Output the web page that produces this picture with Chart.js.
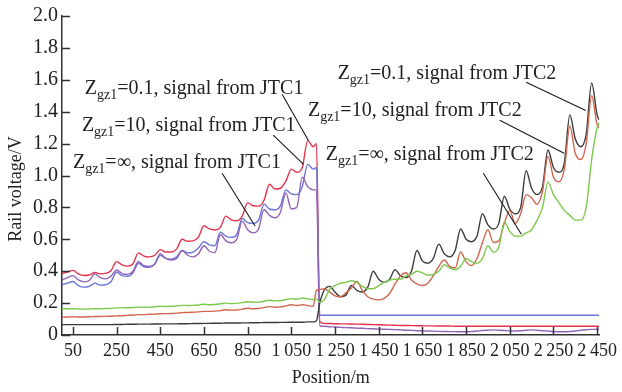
<!DOCTYPE html>
<html>
<head>
<meta charset="utf-8">
<script src="https://cdn.jsdelivr.net/npm/chart.js@4.4.1/dist/chart.umd.min.js"></script>
<style>
  html, body { margin: 0; padding: 0; background: #fff; }
  #wrap { width: 622px; height: 392px; }
</style>
</head>
<body>
<div id="wrap"><canvas id="chart" width="622" height="392"></canvas></div>
<script>
// Data (position in m, rail voltage in V)

const positions = [
  0, 25, 50, 75, 100, 125, 150, 175, 200, 225,
  250, 275, 300, 325, 350, 375, 400, 425, 450, 475,
  500, 525, 550, 575, 600, 625, 650, 675, 700, 725,
  750, 775, 800, 825, 850, 875, 900, 925, 950, 975,
  1000, 1025, 1050, 1075, 1100, 1125, 1150, 1165, 1180, 1200,
  1225, 1250, 1275, 1300, 1325, 1350, 1375, 1400, 1425, 1450,
  1475, 1500, 1525, 1550, 1575, 1600, 1625, 1650, 1675, 1700,
  1725, 1750, 1775, 1800, 1825, 1850, 1875, 1900, 1925, 1950,
  1975, 2000, 2025, 2050, 2075, 2100, 2125, 2150, 2175, 2200,
  2225, 2250, 2275, 2300, 2325, 2350, 2375, 2400, 2425, 2450,
  2460
];

// signal from JTC1
const jtc1Z01 = [
  .385, .395, .405, .383, .373, .376, .392, .384, .386, .405,
  .46, .44, .432, .447, .515, .495, .49, .50, .535, .52,
  .52, .54, .60, .588, .59, .615, .685, .665, .658, .675,
  .745, .722, .716, .745, .83, .81, .808, .845, .945, .915,
  .92, .965, 1.04, 1.02, 1.05, 1.22, 1.18, 1.20, .085, .073,
  .072, .071, .070, .070, .069, .068, .067, .066, .065, .064,
  .063, .062, .061, .060, .060, .059, .058, .058, .057, .057,
  .056, .056, .056, .055, .055, .055, .055, .055, .055, .055,
  .055, .055, .055, .055, .055, .055, .055, .055, .055, .055,
  .055, .055, .055, .055, .055, .055, .055, .055, .055, .055,
  .055
];

const jtc1Z10 = [
  .315, .325, .335, .31, .30, .305, .325, .313, .315, .335,
  .395, .372, .368, .39, .45, .428, .425, .445, .50, .48,
  .475, .49, .53, .515, .52, .545, .585, .565, .56, .645,
  .62, .612, .63, .73, .705, .70, .72, .82, .79, .785,
  .81, .91, .885, .88, .93, 1.07, 1.04, 1.05, .124, .124,
  .124, .124, .124, .124, .124, .124, .124, .124, .124, .124,
  .124, .124, .124, .124, .124, .124, .124, .124, .124, .124,
  .124, .124, .124, .124, .124, .124, .124, .124, .124, .124,
  .124, .124, .124, .124, .124, .124, .124, .124, .124, .124,
  .124, .124, .124, .124, .124, .124, .124, .124, .124, .124,
  .124
];

const jtc1ZInf = [
  .345, .36, .372, .345, .333, .342, .383, .36, .352, .37,
  .408, .385, .38, .40, .46, .435, .43, .445, .51, .48,
  .47, .48, .53, .50, .49, .51, .56, .525, .517, .63,
  .59, .578, .60, .714, .66, .64, .665, .787, .75, .735,
  .77, .89, .79, .80, .99, .93, .91, .91, .056, .055,
  .052, .05, .048, .046, .045, .043, .042, .04, .039, .037,
  .036, .035, .034, .032, .03, .029, .027, .026, .025, .024,
  .023, .022, .021, .021, .02, .02, .022, .025, .028, .03,
  .032, .03, .028, .026, .025, .027, .03, .032, .03, .027,
  .025, .022, .02, .02, .022, .025, .03, .033, .035, .035,
  .035
];

// signal from JTC2
const jtc2Z01 = [
  .065, .065, .065, .065, .065, .065, .065, .065, .065, .065,
  .066, .066, .067, .067, .068, .068, .068, .069, .069, .07,
  .07, .07, .071, .071, .072, .072, .073, .073, .074, .074,
  .075, .075, .075, .076, .076, .077, .077, .078, .078, .078,
  .079, .079, .08, .08, .08, .082, .082, .09, .20, .28,
  .305, .27, .24, .25, .31, .28, .27, .30, .40, .35,
  .33, .35, .41, .37, .36, .40, .53, .465, .45, .48,
  .57, .51, .49, .53, .665, .60, .585, .62, .76, .69,
  .665, .70, .87, .79, .76, .80, 1.03, .92, .88, .93,
  1.16, 1.05, 1.02, 1.08, 1.38, 1.23, 1.18, 1.26, 1.58, 1.38,
  1.35
];

const jtc2Z10 = [
  .112, .113, .114, .113, .113, .114, .116, .116, .117, .118,
  .12, .121, .123, .125, .128, .128, .13, .131, .133, .134,
  .135, .137, .14, .141, .143, .145, .148, .148, .15, .153,
  .158, .156, .157, .162, .168, .165, .166, .172, .178, .174,
  .176, .183, .19, .185, .19, .185, .18, .28, .285, .29,
  .27, .245, .24, .265, .295, .335, .28, .24, .225, .22,
  .23, .26, .32, .37, .39, .345, .32, .31, .325, .37,
  .43, .47, .43, .42, .52, .46, .435, .48, .58, .66,
  .58, .59, .70, .78, .70, .76, .88, .86, .82, .90,
  1.12, .99, .96, 1.04, 1.31, 1.14, 1.10, 1.20, 1.50, 1.32,
  1.30
];

const jtc2ZInf = [
  .165, .165, .165, .163, .162, .163, .165, .165, .166, .167,
  .17, .17, .171, .172, .175, .174, .175, .177, .18, .179,
  .18, .182, .186, .185, .186, .188, .193, .19, .191, .195,
  .20, .197, .198, .203, .208, .205, .206, .212, .218, .214,
  .215, .222, .228, .224, .232, .226, .222, .225, .205, .22,
  .285, .31, .325, .33, .34, .33, .305, .29, .29, .31,
  .33, .345, .35, .35, .37, .38, .40, .39, .375, .38,
  .40, .44, .42, .41, .43, .48, .46, .45, .48, .56,
  .52, .55, .71, .65, .62, .62, .64, .66, .72, .80,
  .96, .88, .83, .78, .75, .72, .72, .80, 1.10, 1.30,
  1.33
];

const xTicks = [50, 250, 450, 650, 850, 1050, 1250, 1450, 1650, 1850, 2050, 2250, 2450];
const yTicks = [0, 0.2, 0.4, 0.6, 0.8, 1.0, 1.2, 1.4, 1.6, 1.8, 2.0];

// Callouts: value text, label anchor (position, voltage), leader line from -> to
const callouts = [
  { z: '0.1', src: 'JTC1', at: [104, 1.512], from: [1008, 1.509], to: [1128, 1.22] },
  { z: '10',  src: 'JTC1', at: [91, 1.276],  from: [967, 1.253],  to: [1106, 1.07] },
  { z: '\u221E', src: 'JTC1', at: [50, 1.046], from: [733, 1.014], to: [884, 0.683] },
  { z: '0.1', src: 'JTC2', at: [1262, 1.605], from: [2125, 1.584], to: [2398, 1.408] },
  { z: '10',  src: 'JTC2', at: [1126, 1.375], from: [2004, 1.346], to: [2299, 1.139] },
  { z: '\u221E', src: 'JTC2', at: [1208, 1.096], from: [1929, 1.014], to: [2103, 0.632] }
];

const SERIF = '"Liberation Serif", "Times New Roman", serif';
const INK = '#222';

const series = [
  { values: jtc2ZInf, color: '#7dc94c' },
  { values: jtc2Z10,  color: '#d0664e' },
  { values: jtc2Z01,  color: '#3c3c3c' },
  { values: jtc1ZInf, color: '#9263b6' },
  { values: jtc1Z10,  color: '#6d76d6' },
  { values: jtc1Z01,  color: '#e3344e' }
];

// Helpers

function fmtPos(v) {
  if (v < 1000) return String(v);
  return Math.floor(v / 1000) + '\u2009' + String(v % 1000).padStart(3, '0');
}

// inward tick marks, y title and callouts
const extras = {
  id: 'extras',
  afterDatasetsDraw(chart) {
    const { ctx, chartArea, scales: { x, y } } = chart;
    ctx.save();

    ctx.strokeStyle = '#333';
    ctx.lineWidth = 1.5;
    ctx.beginPath();
    xTicks.forEach(v => {
      const px = Math.round(x.getPixelForValue(v)) + 0.5;
      ctx.moveTo(px, chartArea.bottom);
      ctx.lineTo(px, chartArea.bottom - 8);
    });
    yTicks.forEach(v => {
      const py = Math.round(y.getPixelForValue(v)) + 0.5;
      ctx.moveTo(chartArea.left, py);
      ctx.lineTo(chartArea.left + 8, py);
    });
    ctx.stroke();

    // y title
    ctx.fillStyle = INK;
    ctx.font = '18px ' + SERIF;
    ctx.textAlign = 'center';
    ctx.textBaseline = 'middle';
    ctx.translate(16, 189);
    ctx.rotate(-Math.PI / 2);
    ctx.fillText('Rail voltage/V', 0, 0);
    ctx.setTransform(1, 0, 0, 1, 0, 0);

    // callouts
    ctx.textAlign = 'left';
    ctx.textBaseline = 'alphabetic';
    callouts.forEach(c => {
      ctx.strokeStyle = '#1a1a1a';
      ctx.lineWidth = 1.1;
      ctx.beginPath();
      ctx.moveTo(x.getPixelForValue(c.from[0]), y.getPixelForValue(c.from[1]));
      ctx.lineTo(x.getPixelForValue(c.to[0]), y.getPixelForValue(c.to[1]));
      ctx.stroke();

      let tx = x.getPixelForValue(c.at[0]);
      const ty = y.getPixelForValue(c.at[1]);
      ctx.font = '20px ' + SERIF;
      ctx.fillText('Z', tx, ty);
      tx += ctx.measureText('Z').width;
      ctx.font = '14px ' + SERIF;
      ctx.fillText('gz1', tx, ty + 5);
      tx += ctx.measureText('gz1').width;
      ctx.font = '20px ' + SERIF;
      ctx.fillText('=' + c.z + ', signal from ' + c.src, tx, ty);
    });

    ctx.restore();
  }
};

// Chart

const chart = new Chart(document.getElementById('chart'), {
  type: 'line',
  data: {
    datasets: series.map(s => ({
      data: positions.map((p, i) => ({ x: p, y: s.values[i] })),
      borderColor: s.color,
      borderWidth: 1.4,
      pointRadius: 0,
      cubicInterpolationMode: 'monotone',
      fill: false
    }))
  },
  options: {
    responsive: false,
    animation: false,
    devicePixelRatio: 1,
    layout: { padding: { top: 13, right: 19, left: 0, bottom: 0 } },
    plugins: { legend: { display: false }, tooltip: { enabled: false } },
    scales: {
      x: {
        type: 'linear',
        min: 0,
        max: 2460,
        afterBuildTicks: s => { s.ticks = xTicks.map(v => ({ value: v })); },
        afterFit: s => { s.height = 57; },
        grid: { display: false, drawTicks: false },
        border: { display: true, color: '#333', width: 1.5 },
        ticks: {
          autoSkip: false,
          maxRotation: 0,
          padding: 5,
          color: INK,
          font: { family: SERIF, size: 18 },
          callback: v => fmtPos(v)
        },
        title: {
          display: true,
          text: 'Position/m',
          color: INK,
          font: { family: SERIF, size: 18 },
          padding: { top: 0, bottom: 3 }
        }
      },
      y: {
        min: 0,
        max: 2,
        afterBuildTicks: s => { s.ticks = yTicks.map(v => ({ value: v })); },
        afterFit: s => { s.width = 62; },
        grid: { display: false, drawTicks: false },
        border: { display: true, color: '#333', width: 1.5 },
        ticks: {
          padding: 4,
          color: INK,
          font: { family: SERIF, size: 20 },
          callback: v => (v === 0 ? '0' : v.toFixed(1))
        }
      }
    }
  },
  plugins: [extras]
});
</script>
</body>
</html>
